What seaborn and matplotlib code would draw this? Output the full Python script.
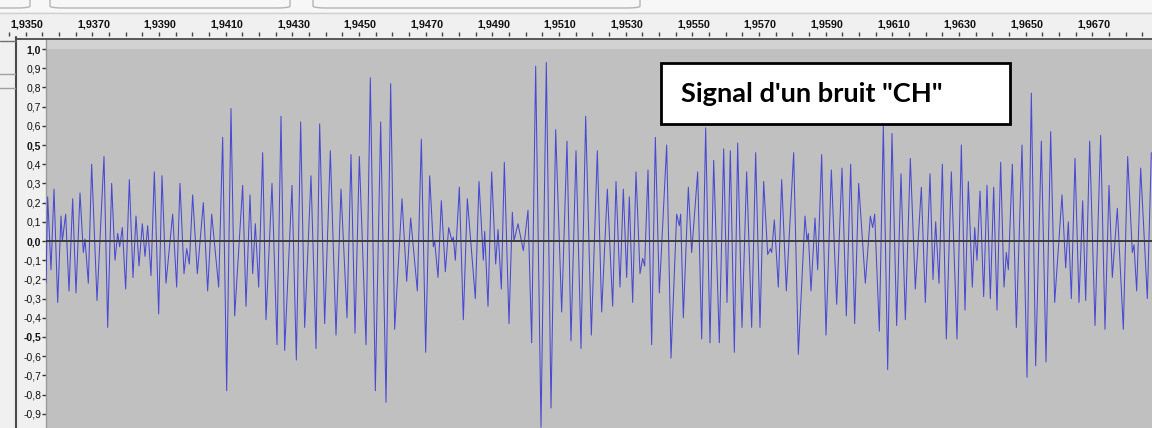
import matplotlib
matplotlib.use("Agg")
import matplotlib.pyplot as plt
from matplotlib.patches import Rectangle, FancyBboxPatch
from matplotlib.lines import Line2D
import numpy as np
import pandas as pd
import seaborn as sns

# Sample times (ms) of the waveform turning points and their amplitudes
time_ms = [
    1936.11, 1936.16, 1936.26, 1936.35, 1936.46, 1936.56, 1936.60, 1936.70, 1936.80, 1936.91,
    1937.01, 1937.13, 1937.23, 1937.28, 1937.38, 1937.48, 1937.64, 1937.85, 1937.96, 1938.08,
    1938.18, 1938.26, 1938.32, 1938.40, 1938.50, 1938.61, 1938.72, 1938.81, 1938.90, 1939.00,
    1939.08, 1939.16, 1939.26, 1939.36, 1939.49, 1939.59, 1939.71, 1939.91, 1940.03, 1940.13,
    1940.25, 1940.33, 1940.41, 1940.51, 1940.65, 1940.83, 1940.96, 1941.08, 1941.29, 1941.41,
    1941.53, 1941.66, 1941.77, 1942.01, 1942.11, 1942.23, 1942.31, 1942.39, 1942.49, 1942.61,
    1942.71, 1942.89, 1943.04, 1943.16, 1943.27, 1943.49, 1943.62, 1943.75, 1943.87, 1944.06,
    1944.21, 1944.32, 1944.47, 1944.64, 1944.81, 1944.96, 1945.14, 1945.26, 1945.38, 1945.51,
    1945.71, 1945.84, 1945.99, 1946.15, 1946.31, 1946.45, 1946.57, 1946.79, 1946.93, 1947.05,
    1947.25, 1947.37, 1947.50, 1947.62, 1947.73, 1947.77, 1947.87, 1947.97, 1948.09, 1948.19,
    1948.29, 1948.33, 1948.39, 1948.51, 1948.63, 1948.75, 1948.99, 1949.10, 1949.23, 1949.27,
    1949.37, 1949.48, 1949.60, 1949.67, 1949.77, 1949.86, 1950.00, 1950.10, 1950.15, 1950.27,
    1950.43, 1950.57, 1950.68, 1950.80, 1950.96, 1951.12, 1951.26, 1951.40, 1951.58, 1951.74,
    1951.86, 1952.01, 1952.16, 1952.30, 1952.47, 1952.65, 1952.78, 1952.95, 1953.11, 1953.21,
    1953.33, 1953.43, 1953.53, 1953.61, 1953.71, 1953.81, 1953.93, 1954.01, 1954.07, 1954.17,
    1954.28, 1954.39, 1954.51, 1954.73, 1954.86, 1955.03, 1955.11, 1955.15, 1955.23, 1955.38,
    1955.48, 1955.66, 1955.78, 1955.90, 1956.03, 1956.14, 1956.31, 1956.44, 1956.54, 1956.64,
    1956.76, 1956.86, 1956.99, 1957.13, 1957.28, 1957.40, 1957.53, 1957.64, 1957.76, 1957.84,
    1957.88, 1957.96, 1958.08, 1958.18, 1958.32, 1958.54, 1958.68, 1958.88, 1958.94, 1958.98,
    1959.06, 1959.18, 1959.26, 1959.38, 1959.51, 1959.67, 1959.83, 1959.99, 1960.12, 1960.25,
    1960.37, 1960.49, 1960.69, 1960.84, 1960.91, 1960.97, 1961.11, 1961.23, 1961.36, 1961.49,
    1961.63, 1961.76, 1961.89, 1962.04, 1962.19, 1962.37, 1962.49, 1962.63, 1962.72, 1962.80,
    1962.90, 1963.00, 1963.12, 1963.27, 1963.44, 1963.57, 1963.68, 1963.78, 1963.90, 1963.97,
    1964.04, 1964.13, 1964.24, 1964.34, 1964.44, 1964.54, 1964.64, 1964.75, 1964.85, 1964.92,
    1964.98, 1965.10, 1965.22, 1965.39, 1965.54, 1965.67, 1965.80, 1965.97, 1966.11, 1966.25,
    1966.37, 1966.59, 1966.70, 1966.78, 1966.87, 1966.98, 1967.10, 1967.21, 1967.30, 1967.42,
    1967.58, 1967.75, 1967.88, 1968.00, 1968.10, 1968.25, 1968.43, 1968.56, 1968.70, 1968.75,
    1968.83, 1968.95, 1969.15, 1969.27,
]
amplitude = [
    -0.22, 0.23, -0.15, 0.27, -0.32, 0.13, 0.00, 0.14, -0.26, 0.22,
    -0.27, 0.25, -0.06, 0.01, -0.22, 0.40, -0.31, 0.44, -0.45, 0.30,
    -0.10, 0.04, -0.03, 0.07, -0.25, 0.32, -0.19, 0.13, -0.13, 0.09,
    -0.08, 0.08, -0.18, 0.36, -0.38, 0.34, -0.22, 0.14, -0.24, 0.30,
    -0.17, -0.04, -0.12, 0.24, -0.17, 0.20, -0.26, 0.14, -0.24, 0.54,
    -0.78, 0.69, -0.39, 0.29, -0.34, 0.24, -0.17, 0.09, -0.24, 0.46,
    -0.41, 0.30, -0.54, 0.65, -0.57, 0.29, -0.62, 0.62, -0.45, 0.34,
    -0.56, 0.61, -0.43, 0.47, -0.49, 0.27, -0.40, 0.45, -0.48, 0.44,
    -0.54, 0.85, -0.78, 0.62, -0.84, 0.82, -0.46, 0.22, -0.21, 0.12,
    -0.26, 0.53, -0.58, 0.34, -0.03, 0.00, -0.19, 0.21, -0.16, 0.07,
    0.00, 0.02, -0.10, 0.28, -0.41, 0.22, -0.30, 0.31, -0.10, 0.05,
    -0.34, 0.36, -0.12, 0.06, -0.25, 0.41, -0.43, 0.15, 0.00, 0.09,
    -0.05, 0.16, -0.53, 0.91, -0.97, 0.93, -0.87, 0.58, -0.37, 0.52,
    -0.52, 0.47, -0.56, 0.65, -0.49, 0.47, -0.37, 0.27, -0.34, 0.31,
    -0.24, 0.27, -0.19, 0.23, -0.32, 0.36, -0.17, -0.09, -0.13, 0.37,
    -0.54, 0.54, -0.27, 0.50, -0.61, 0.14, 0.08, 0.14, -0.40, 0.28,
    -0.06, 0.36, -0.51, 0.59, -0.53, 0.42, -0.53, 0.48, -0.32, 0.47,
    -0.58, 0.51, -0.45, 0.36, -0.45, 0.46, -0.45, 0.31, -0.07, -0.04,
    -0.06, 0.11, -0.24, 0.32, -0.26, 0.46, -0.59, 0.13, 0.00, 0.04,
    -0.26, 0.12, -0.15, 0.45, -0.49, 0.37, -0.33, 0.38, -0.39, 0.40,
    -0.43, 0.30, -0.22, 0.13, 0.07, 0.14, -0.47, 0.60, -0.67, 0.56,
    -0.44, 0.35, -0.41, 0.43, -0.25, 0.28, -0.32, 0.35, -0.20, 0.10,
    -0.22, 0.40, -0.51, 0.36, -0.51, 0.50, -0.36, 0.31, -0.24, 0.07,
    -0.10, 0.26, -0.29, 0.29, -0.30, 0.28, -0.36, 0.41, -0.24, -0.06,
    -0.15, 0.40, -0.45, 0.50, -0.71, 0.77, -0.65, 0.52, -0.63, 0.57,
    -0.32, 0.24, -0.14, 0.10, -0.30, 0.43, -0.32, 0.21, -0.31, 0.52,
    -0.44, 0.55, -0.46, 0.29, -0.19, 0.17, -0.46, 0.44, -0.06, -0.02,
    -0.26, 0.38, -0.30, 0.46,
]

# Timeline labels (ms) and amplitude scale
ruler_label_ms = [1935, 1937, 1939, 1941, 1943, 1945, 1947, 1949, 1951,
                  1953, 1955, 1957, 1959, 1961, 1963, 1965, 1967]
amp_ticks = [1.0, 0.9, 0.8, 0.7, 0.6, 0.5, 0.4, 0.3, 0.2, 0.1, 0.0,
             -0.1, -0.2, -0.3, -0.4, -0.5, -0.6, -0.7, -0.8, -0.9]
bold_ticks = [1.0, 0.5, 0.0, -0.5]
title = 'Signal d\'un bruit "CH"'

W, H = 1152, 428
sns.set_style("white")
plt.rcParams['font.family'] = ['Liberation Sans', 'DejaVu Sans']


def fx(px):
    return px / W


def fy(py):
    return 1 - py / H


fig = plt.figure(figsize=(W / 100, H / 100), dpi=100, facecolor='#f0f0f0')

# --- waveform track ---
ax = fig.add_axes([fx(46), 0, 1 - fx(46), 388 / H])
ax.set_facecolor('#c0c0c0')
df = pd.DataFrame({'t': time_ms, 'a': amplitude})
sns.lineplot(data=df, x='t', y='a', ax=ax, color='#3c3cd4', linewidth=0.75, alpha=0.9,
             estimator=None, sort=False, zorder=3)
ax.axhline(0, color='#3a3a3a', lw=1.4, zorder=4)
ax.axhspan(1.0, 1.2, color='#d2d2d2', lw=0, zorder=0)
ax.set_xlim(1936.11, 1969.29)
ax.set_ylim(-0.974, 1.047)
ax.set_xlabel('')
ax.set_ylabel('')
ax.set_xticks([])
ax.set_yticks(amp_ticks)
ax.set_yticklabels([f"{v:.1f}".replace('.', ',').replace('-0,0', '0,0') for v in amp_ticks])
ax.tick_params(axis='y', direction='out', length=3, width=1, pad=0.5,
               labelsize=7.5, color='#333333', labelcolor='#111111', left=True)
for lab, v in zip(ax.get_yticklabels(), amp_ticks):
    if v in bold_ticks:
        lab.set_fontweight('bold')
for side in ['top', 'right', 'bottom']:
    ax.spines[side].set_visible(False)
ax.spines['left'].set_color('#9a9a9a')
ax.spines['left'].set_linewidth(1.0)

# --- time ruler ---
axr = fig.add_axes([0, fy(36), 1, 24 / H])
axr.set_facecolor('#f0f0f0')
axr.set_xlim(1934.73, 1969.29)
axr.set_ylim(0, 1)
axr.set_xticks(np.arange(1935, 1969.3, 0.5))
axr.set_xticklabels([])
axr.set_yticks([])
axr.tick_params(axis='x', direction='in', length=3, width=1, color='#444444', bottom=True)
for s in axr.spines.values():
    s.set_visible(False)
for v in ruler_label_ms:
    axr.text(v + 0.04, 0.46, f"{v / 1000:.4f}".replace('.', ','), ha='left', va='center',
             fontsize=7.8, fontweight='bold', color='#111111')

# window chrome around the ruler
fig.add_artist(Rectangle((0, fy(12)), 1, 12 / H, transform=fig.transFigure,
                         facecolor='#f7f7f7', edgecolor='none', zorder=1))
for x0, x1 in [(-40, 30), (50, 290), (313, 640)]:
    fig.add_artist(FancyBboxPatch((fx(x0), fy(8)), fx(x1 - x0), 14 / H,
                                  boxstyle="round,pad=0,rounding_size=0.012",
                                  transform=fig.transFigure, facecolor='#f7f7f7',
                                  edgecolor='#b4b4b4', lw=1.0, zorder=1.5,
                                  mutation_aspect=H / W))
fig.add_artist(Line2D([0, 1], [fy(13), fy(13)], transform=fig.transFigure,
                      color='#d0d0d0', lw=1, zorder=2))
fig.add_artist(Line2D([fx(16), 1], [fy(38.5), fy(38.5)], transform=fig.transFigure,
                      color='#3c3c3c', lw=1.2, zorder=5))
fig.add_artist(Line2D([fx(16), fx(16)], [fy(37), 0], transform=fig.transFigure,
                      color='#4a4a4a', lw=1.5, zorder=5))
fig.add_artist(Line2D([0, fx(16)], [fy(40.5), fy(40.5)], transform=fig.transFigure,
                      color='#707070', lw=1.0, zorder=5))
fig.add_artist(Line2D([0, fx(15)], [fy(74), fy(74)], transform=fig.transFigure,
                      color='#a0a0a0', lw=1.0, zorder=5))
fig.add_artist(Line2D([0, fx(15)], [fy(88), fy(88)], transform=fig.transFigure,
                      color='#a0a0a0', lw=1.0, zorder=5))

# --- caption box ---
fig.add_artist(Rectangle((fx(661), fy(124)), fx(349), 61 / H, transform=fig.transFigure,
                         facecolor='white', edgecolor='black', lw=2, zorder=10))
fig.text(fx(681), fy(94), title, fontsize=19.6, fontweight='bold', family=['Lato', 'DejaVu Sans'],
         ha='left', va='center', color='black', zorder=11)

fig.savefig('out.png', dpi=100, facecolor=fig.get_facecolor())
